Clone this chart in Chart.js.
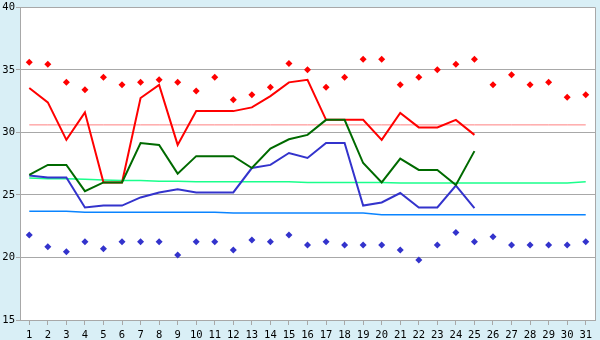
<!DOCTYPE html>
<html>
<head>
<meta charset="utf-8">
<script src="https://cdn.jsdelivr.net/npm/chart.js@4"></script>
<style>
    body { margin: 0; background: #d9eff6; }
    canvas { display: block; }
</style>
</head>
<body>
<canvas id="chart" width="600" height="340"></canvas>
<script>
////// Data

const days = ["1", "2", "3", "4", "5", "6", "7", "8", "9", "10", "11", "12", "13", "14", "15", "16",
    "17", "18", "19", "20", "21", "22", "23", "24", "25", "26", "27", "28", "29", "30", "31"];

const redLine = [33.55, 32.4, 29.4, 31.6, 26.0, 26.0, 32.75, 33.8, 29.0, 31.7, 31.7, 31.7, 32.0, 32.9, 34.0, 34.2,
    31.0, 31.0, 31.0, 29.4, 31.55, 30.4, 30.4, 31.0, 29.8];
const greenLine = [26.6, 27.4, 27.4, 25.3, 26.0, 26.0, 29.15, 29.0, 26.7, 28.1, 28.1, 28.1, 27.15, 28.7, 29.45, 29.8,
    31.0, 31.0, 27.55, 26.0, 27.9, 27.0, 27.0, 25.8, 28.5];
const blueLine = [26.55, 26.4, 26.4, 24.0, 24.15, 24.15, 24.8, 25.2, 25.45, 25.2, 25.2, 25.2, 27.15, 27.4, 28.35, 27.95,
    29.15, 29.15, 24.15, 24.4, 25.15, 24.0, 24.0, 25.75, 23.95];

const upperMarks = [35.6, 35.45, 34.0, 33.4, 34.4, 33.8, 34.0, 34.2, 34.0, 33.3, 34.4, 32.6, 33.0, 33.6, 35.5, 35.0,
    33.6, 34.4, 35.85, 35.85, 33.8, 34.4, 35.0, 35.45, 35.85, 33.8, 34.6, 33.8, 34.0, 32.8, 33.0];
const lowerMarks = [21.8, 20.85, 20.45, 21.25, 20.7, 21.25, 21.25, 21.25, 20.2, 21.25, 21.25, 20.6, 21.4, 21.25, 21.8, 21.0,
    21.25, 21.0, 21.0, 21.0, 20.6, 19.8, 21.0, 22.0, 21.25, 21.65, 21.0, 21.0, 21.0, 21.0, 21.25];

const pinkLevel = [30.6, 30.6, 30.6, 30.6, 30.6, 30.6, 30.6, 30.6, 30.6, 30.6, 30.6, 30.6, 30.6, 30.6, 30.6, 30.6,
    30.6, 30.6, 30.6, 30.6, 30.6, 30.6, 30.6, 30.6, 30.6, 30.6, 30.6, 30.6, 30.6, 30.6, 30.6];
const mintLevel = [26.35, 26.3, 26.3, 26.25, 26.2, 26.15, 26.15, 26.1, 26.1, 26.05, 26.05, 26.05, 26.05, 26.05, 26.05, 26.0,
    26.0, 26.0, 26.0, 26.0, 25.95, 25.95, 25.95, 25.95, 25.95, 25.95, 25.95, 25.95, 25.95, 25.95, 26.05];
const azureLevel = [23.7, 23.7, 23.7, 23.62, 23.62, 23.62, 23.62, 23.62, 23.62, 23.62, 23.62, 23.55, 23.55, 23.55, 23.55, 23.55,
    23.55, 23.55, 23.55, 23.42, 23.42, 23.42, 23.42, 23.42, 23.42, 23.42, 23.42, 23.42, 23.42, 23.42, 23.42];

const yTicks = [15, 20, 25, 30, 35, 40];

////// Chart

const GRID = '#a8a8a8';
const tickFont = { family: 'DejaVu Sans Mono', size: 10.5 };

const frame = {
    id: 'frame',
    beforeDraw(chart) {
        const { ctx, chartArea: a } = chart;
        ctx.save();
        ctx.fillStyle = '#d9eff6';
        ctx.fillRect(0, 0, chart.width, chart.height);
        ctx.fillStyle = '#ffffff';
        ctx.fillRect(a.left, a.top, a.right - a.left, a.bottom - a.top);
        ctx.restore();
    },
    afterDraw(chart) {
        const { ctx, chartArea: a } = chart;
        ctx.save();
        ctx.strokeStyle = GRID;
        ctx.lineWidth = 1;
        ctx.beginPath();
        ctx.moveTo(a.right + 0.5, a.top);
        ctx.lineTo(a.right + 0.5, a.bottom);
        ctx.stroke();
        ctx.restore();
    }
};

function line(data, color, width, order) {
    return {
        type: 'line',
        data: data,
        borderColor: color,
        backgroundColor: color,
        borderWidth: width,
        pointRadius: 0,
        tension: 0,
        fill: false,
        order: order
    };
}

function marks(data, color, order) {
    return {
        type: 'line',
        data: data,
        showLine: false,
        pointStyle: 'rectRot',
        pointRadius: 3.5,
        pointBorderWidth: 0,
        pointBackgroundColor: color,
        pointBorderColor: color,
        order: order
    };
}

new Chart(document.getElementById('chart'), {
    type: 'line',
    data: {
        labels: days,
        datasets: [
            line(pinkLevel, '#ff8080', 1, 9),
            line(mintLevel, '#1aff8c', 1.5, 8),
            line(azureLevel, '#0a84ff', 1.5, 7),
            line(redLine, '#ff0000', 2, 6),
            line(blueLine, '#3333cc', 2, 5),
            line(greenLine, '#006a00', 2, 4),
            marks(upperMarks, '#ff0000', 2),
            marks(lowerMarks, '#3333cc', 1)
        ]
    },
    options: {
        responsive: false,
        animation: false,
        layout: { padding: { top: 5, right: 5, left: 0, bottom: 0 } },
        plugins: {
            legend: { display: false },
            tooltip: { enabled: false }
        },
        scales: {
            x: {
                offset: true,
                grid: {
                    offset: false,
                    drawOnChartArea: false,
                    drawTicks: true,
                    tickLength: 5,
                    color: GRID
                },
                border: { display: true, color: GRID },
                ticks: {
                    autoSkip: false,
                    maxRotation: 0,
                    padding: 4,
                    color: '#000',
                    font: tickFont
                },
                afterFit(scale) { scale.height = 20; }
            },
            y: {
                min: 15,
                max: 40,
                afterBuildTicks(scale) {
                    scale.ticks = yTicks.map(v => ({ value: v }));
                },
                grid: {
                    color: GRID,
                    tickLength: 4
                },
                border: { display: true, color: GRID },
                ticks: {
                    padding: 1,
                    color: '#000',
                    font: tickFont
                },
                afterFit(scale) { scale.width = 20; }
            }
        }
    },
    plugins: [frame]
});
</script>
</body>
</html>
